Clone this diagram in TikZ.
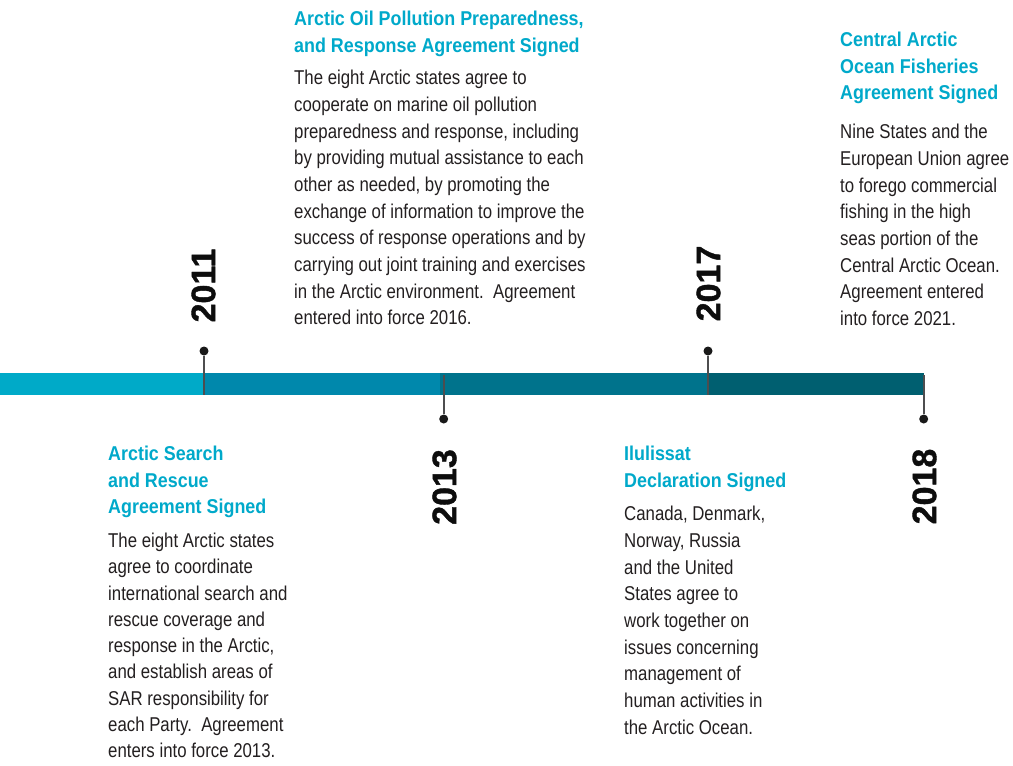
\documentclass[tikz,border=0pt]{standalone}
\usepackage{fontspec}
\setmainfont{Liberation Sans}
\newfontfamily\bodyfont[FakeStretch=0.84]{Liberation Sans}
\newfontfamily\headfont[FakeStretch=0.895]{Liberation Sans}
\newfontfamily\yearfont[FakeBold=1.2]{Liberation Sans Bold}
\definecolor{segA}{HTML}{00AAC8}
\definecolor{segB}{HTML}{0088AC}
\definecolor{segC}{HTML}{00738C}
\definecolor{segD}{HTML}{005F70}
\definecolor{headcyan}{HTML}{00A9CA}
\definecolor{bodygray}{HTML}{231F20}
\definecolor{pingray}{HTML}{4D4D4F}
\tikzset{
  head/.style={anchor=north west, inner sep=0, align=left, text=headcyan,
    font=\headfont\bfseries\fontsize{20}{26.8}\selectfont},
  body/.style={anchor=north west, inner sep=0, align=left, text=bodygray,
    font=\bodyfont\fontsize{20}{26.7}\selectfont},
  year/.style={rotate=90, inner sep=0, text=black!95,
    font=\yearfont\fontsize{34}{34}\selectfont},
  pin/.style={line width=1.6pt, draw=pingray},
  dot/.style={circle, fill=black!90, inner sep=0, minimum size=9pt}
}

\begin{document}
\begin{tikzpicture}[x=1pt,y=-1pt]
			%%%%% START %%%%%
			\useasboundingbox (0, 0) rectangle (1013, 766);
			
			\fill[segA] (0, 373) rectangle (204, 394.7);
			\fill[segB] (204, 373) rectangle (440, 394.7);
			\fill[segC] (440, 373) rectangle (708, 394.7);
			\fill[segD] (708, 373) rectangle (924, 394.7);
			
			% pins above the bar
			\node[dot] (p2011) at (204, 351) {};
			\coordinate (b2011) at (204, 394.7);
			\draw[pin] (p2011) -- (b2011);
			\node[dot] (p2017) at (708, 351) {};
			\coordinate (b2017) at (708, 394.7);
			\draw[pin] (p2017) -- (b2017);
			
			% pins below the bar
			\node[dot] (p2013) at (443.7, 419) {};
			\coordinate (b2013) at (443.7, 375);
			\draw[pin] (b2013) -- (p2013);
			\node[dot] (p2018) at (923.7, 419) {};
			\coordinate (b2018) at (923.7, 375);
			\draw[pin] (b2018) -- (p2018);
			
			\node[year] (y2011) at (203.5, 285.5) {2011};
			\node[year] (y2013) at (444.5, 487) {2013};
			\node[year] (y2017) at (708.5, 283.5) {2017};
			\node[year] (y2018) at (924.5, 486.5) {2018};
			
			\node[head] (oilhead) at (294, 6.3) {\strut Arctic Oil Pollution Preparedness,\\and Response Agreement Signed};
			\node[body] (oiltext) at (294, 65.8) {\strut The eight Arctic states agree to\\cooperate on marine oil pollution\\preparedness and response, including\\by providing mutual assistance to each\\other as needed, by promoting the\\exchange of information to improve the\\success of response operations and by\\carrying out joint training and exercises\\in the Arctic environment.\ \ Agreement\\entered into force 2016.};
			
			\node[head] (fishhead) at (840, 27.3) {\strut Central Arctic\\Ocean Fisheries\\Agreement Signed};
			\node[body] (fishtext) at (840, 119.8) {\strut Nine States and the\\European Union agree\\to forego commercial\\fishing in the high\\seas portion of the\\Central Arctic Ocean.\\Agreement entered\\into force 2021.};
			
			\node[head] (sarhead) at (108, 441.3) {\strut Arctic Search\\and Rescue\\Agreement Signed};
			\node[body, font=\bodyfont\fontsize{20}{26.3}\selectfont] (sartext) at (108, 528.8) {\strut The eight Arctic states\\agree to coordinate\\international search and\\rescue coverage and\\response in the Arctic,\\and establish areas of\\SAR responsibility for\\each Party.\ \ Agreement\\enters into force 2013.};
			
			\node[head] (ilulhead) at (624, 441.3) {\strut Ilulissat\\Declaration Signed};
			\node[body] (ilultext) at (624, 501.8) {\strut Canada, Denmark,\\Norway, Russia\\and the United\\States agree to\\work together on\\issues concerning\\management of\\human activities in\\the Arctic Ocean.};
			%%%%% END %%%%%
\end{tikzpicture}
\end{document}
